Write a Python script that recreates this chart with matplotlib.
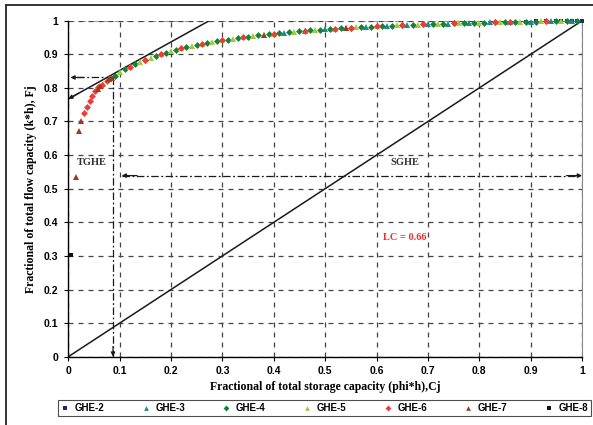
import matplotlib
matplotlib.use("Agg")
import matplotlib.pyplot as plt
from matplotlib.lines import Line2D

# Lorenz-type plot: fraction of flow capacity vs fraction of storage capacity

ghe2_c = [0.89, 0.91, 0.93, 0.95, 0.96, 0.97, 0.98, 0.99, 1.00]
ghe2_f = [0.997, 0.998, 0.998, 0.999, 0.999, 0.999, 1.000, 1.000, 1.000]

ghe3_c = [0.42, 0.46, 0.50, 0.54, 0.58, 0.62, 0.66, 0.70, 0.74, 0.78,
          0.82, 0.86, 0.90, 0.94, 0.98]
ghe3_f = [0.964, 0.969, 0.974, 0.978, 0.981, 0.984, 0.987, 0.989, 0.991, 0.993,
          0.995, 0.996, 0.997, 0.998, 0.999]

ghe4_c = [0.09, 0.11, 0.13, 0.15, 0.17, 0.19, 0.21, 0.23, 0.25, 0.27,
          0.29, 0.31, 0.33, 0.35, 0.37, 0.39, 0.41, 0.43, 0.45, 0.47,
          0.49, 0.51, 0.53, 0.55, 0.57, 0.59, 0.61, 0.63, 0.65, 0.67,
          0.69, 0.71, 0.73, 0.75, 0.77, 0.79, 0.81, 0.83, 0.85, 0.87,
          0.89, 0.91, 0.93, 0.95, 0.97, 0.99]
ghe4_f = [0.836, 0.855, 0.870, 0.883, 0.895, 0.905, 0.914, 0.922, 0.928, 0.934,
          0.940, 0.944, 0.948, 0.952, 0.956, 0.960, 0.963, 0.966, 0.968, 0.971,
          0.973, 0.975, 0.977, 0.979, 0.981, 0.982, 0.984, 0.985, 0.987, 0.988,
          0.989, 0.990, 0.991, 0.992, 0.993, 0.994, 0.994, 0.995, 0.996, 0.996,
          0.997, 0.997, 0.998, 0.999, 0.999, 1.000]

ghe5_c = [0.068, 0.08, 0.10, 0.12, 0.14, 0.16, 0.18, 0.20, 0.22, 0.24,
          0.26, 0.28, 0.30, 0.32, 0.34, 0.36, 0.38, 0.40, 0.44, 0.48,
          0.52, 0.56, 0.60, 0.64, 0.68, 0.72, 0.76, 0.80, 0.84, 0.88,
          0.92, 0.96]
ghe5_f = [0.812, 0.826, 0.846, 0.863, 0.877, 0.889, 0.900, 0.910, 0.918, 0.925,
          0.931, 0.937, 0.942, 0.946, 0.950, 0.954, 0.958, 0.961, 0.967, 0.972,
          0.976, 0.980, 0.983, 0.986, 0.988, 0.990, 0.992, 0.994, 0.995, 0.997,
          0.998, 0.999]

ghe6_c = [0.031, 0.037, 0.042, 0.047, 0.052, 0.057, 0.065, 0.075, 0.12, 0.15,
          0.18, 0.22, 0.26, 0.30, 0.34, 0.40, 0.46, 0.52, 0.55, 0.60,
          0.65, 0.69, 0.75, 0.83, 0.86, 0.93]
ghe6_f = [0.724, 0.742, 0.761, 0.777, 0.791, 0.802, 0.810, 0.820, 0.863, 0.883,
          0.900, 0.918, 0.931, 0.942, 0.950, 0.961, 0.969, 0.976, 0.979, 0.983,
          0.987, 0.989, 0.992, 0.995, 0.996, 0.998]

ghe7_c = [0.015, 0.021, 0.024, 0.057, 0.062, 0.080, 0.085, 0.38, 0.54]
ghe7_f = [0.536, 0.672, 0.700, 0.798, 0.806, 0.826, 0.830, 0.958, 0.977]

ghe8_c = [0.005]
ghe8_f = [0.303]

series = [
    ("GHE-2", ghe2_c, ghe2_f, "s", "#1f2a6e", 3.5),
    ("GHE-3", ghe3_c, ghe3_f, "^", "#1b8c8c", 4.0),
    ("GHE-4", ghe4_c, ghe4_f, "D", "#16803a", 3.5),
    ("GHE-5", ghe5_c, ghe5_f, "^", "#9ccc3c", 4.0),
    ("GHE-6", ghe6_c, ghe6_f, "D", "#f03a36", 3.5),
    ("GHE-7", ghe7_c, ghe7_f, "^", "#9c3a1e", 4.0),
    ("GHE-8", ghe8_c, ghe8_f, "s", "#111111", 3.5),
]

# tangent, homogeneous line and cut-off markers
tangent_c = [0.0, 0.272]
tangent_f = [0.767, 0.998]
cutoff_c = 0.087
cutoff_f = 0.831
sghe_f = 0.539
sghe_c = [0.104, 1.0]

fig = plt.figure(figsize=(5.93, 4.25), dpi=100)
ax = fig.add_axes([0.1152, 0.1607, 0.8663, 0.7906])

ax.set_xlim(0, 1)
ax.set_ylim(0, 1)
ticks = [0, 0.1, 0.2, 0.3, 0.4, 0.5, 0.6, 0.7, 0.8, 0.9, 1]
tick_labels = ["0", "0.1", "0.2", "0.3", "0.4", "0.5", "0.6", "0.7", "0.8", "0.9", "1"]
ax.set_xticks(ticks)
ax.set_xticklabels(tick_labels)
ax.set_yticks(ticks)
ax.set_yticklabels(tick_labels)
ax.tick_params(length=3, width=0.8, labelsize=7.5, pad=4)
for lab in ax.get_xticklabels() + ax.get_yticklabels():
    lab.set_fontfamily("Liberation Sans")
    lab.set_fontweight("bold")

ax.grid(True, color="#444444", linestyle=(0, (4, 4)), linewidth=0.9)
ax.spines["top"].set_visible(False)
ax.spines["right"].set_color("#888888")
ax.spines["left"].set_linewidth(1.0)
ax.spines["bottom"].set_linewidth(1.0)
ax.axhline(1.0, color="#888888", linestyle=(0, (4, 3)), linewidth=1.2, zorder=1)

# 45 degree line
ax.plot([0, 1], [0, 1], color="#1a1a1a", linewidth=1.1, zorder=2)

# tangent line with arrow at axis
ax.plot(tangent_c, tangent_f, color="#1a1a1a", linewidth=1.1, zorder=2)
arrow_kw = dict(arrowstyle="-|>", color="#1a1a1a", lw=0.9, mutation_scale=6,
                shrinkA=0, shrinkB=0)
ax.annotate("", xy=(tangent_c[0], tangent_f[0]),
            xytext=(tangent_c[0] + 0.02, tangent_f[0] + 0.017), arrowprops=arrow_kw)

dashdot = (0, (6, 2, 1.5, 2))
ax.plot([cutoff_c, 0.004], [cutoff_f, cutoff_f], color="#1a1a1a",
        linestyle=dashdot, linewidth=0.9, zorder=3)
ax.annotate("", xy=(0.004, cutoff_f), xytext=(0.03, cutoff_f), arrowprops=arrow_kw)
ax.plot([cutoff_c, cutoff_c], [cutoff_f, 0.0], color="#1a1a1a",
        linestyle=dashdot, linewidth=0.9, zorder=3)
ax.annotate("", xy=(cutoff_c, 0.0), xytext=(cutoff_c, 0.03), arrowprops=arrow_kw)

ax.plot(sghe_c, [sghe_f, sghe_f], color="#1a1a1a", linestyle=dashdot,
        linewidth=0.9, zorder=3)
ax.annotate("", xy=(sghe_c[0], sghe_f), xytext=(sghe_c[0] + 0.03, sghe_f),
            arrowprops=arrow_kw)
ax.annotate("", xy=(sghe_c[1], sghe_f), xytext=(sghe_c[1] - 0.03, sghe_f),
            arrowprops=arrow_kw)

for name, c, f, mk, col, ms in series:
    ax.plot(c, f, linestyle="none", marker=mk, markersize=ms, color=col,
            markeredgewidth=0, label=name, zorder=4, clip_on=False)

label_font = dict(fontfamily="Liberation Serif", fontweight="bold", fontsize=7.5,
                  ha="center", va="center")
ax.text(0.045, 0.577, "TGHE", color="#333333", **label_font)
ax.text(0.655, 0.578, "SGHE", color="#333333", **label_font)
ax.text(0.655, 0.356, "LC = 0.66", color="#e8322f", **label_font)

ax.set_xlabel("Fractional of total storage capacity (phi*h),Cj",
              fontfamily="Liberation Serif", fontweight="bold", fontsize=8.5,
              labelpad=3)
ax.set_ylabel("Fractional of total flow capacity (k*h), Fj",
              fontfamily="Liberation Serif", fontweight="bold", fontsize=8.5,
              labelpad=5)

leg = fig.legend(loc="lower left", bbox_to_anchor=(0.098, 0.021, 0.899, 0.036),
                 mode="expand", ncol=7, frameon=True, fancybox=False,
                 borderaxespad=0.0,
                 prop={"family": "Liberation Sans", "weight": "bold", "size": 7},
                 handlelength=0.8, handletextpad=0.6, borderpad=0.3,
                 columnspacing=1.0, markerscale=0.85)
leg.get_frame().set_edgecolor("#222222")
leg.get_frame().set_linewidth(0.8)

# outer frame edges
fig.add_artist(Line2D([6 / 593, 6 / 593], [0, 1 - 5 / 425], color="#333333",
                      linewidth=1.4, transform=fig.transFigure))
fig.add_artist(Line2D([6 / 593, 1], [1 - 5 / 425, 1 - 5 / 425], color="#333333",
                      linewidth=1.4, transform=fig.transFigure))

fig.savefig("out.png", dpi=100)
